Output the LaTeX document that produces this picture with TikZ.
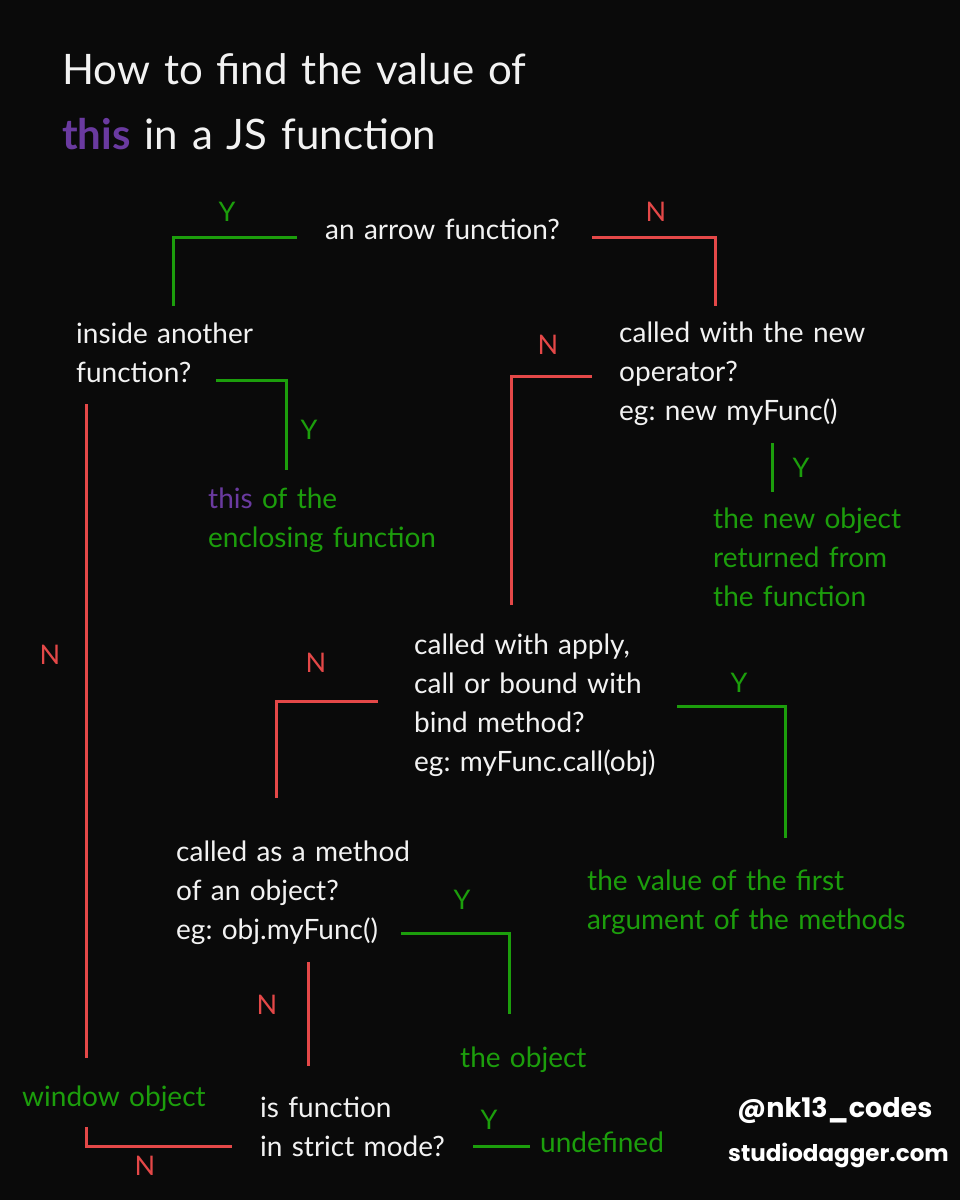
\documentclass[tikz,border=0pt]{standalone}
\usepackage{fontspec}
\setmainfont{Lato}
\newfontfamily\popfont{Poppins}
\frenchspacing
\definecolor{bg}{RGB}{10,10,10}
\definecolor{jsgreen}{RGB}{28,158,12}
\definecolor{jsred}{RGB}{228,72,72}
\definecolor{jspurple}{RGB}{106,58,160}
\definecolor{fg}{RGB}{242,242,242}
\tikzset{
  txt/.style={anchor=base west, inner sep=0pt, text=fg, font=\fontsize{28}{39}\selectfont, align=left, text width=380pt},
  ans/.style={txt, text=jsgreen},
  lbl/.style={anchor=base, inner sep=0pt, font=\fontsize{27}{27}\selectfont},
  ylbl/.style={lbl, text=jsgreen},
  nlbl/.style={lbl, text=jsred},
  yes/.style={draw=jsgreen, line width=3pt},
  no/.style={draw=jsred, line width=3pt},
  footer/.style={anchor=base west, inner sep=0pt, text=white, font=\popfont\bfseries\fontsize{27}{27}\selectfont}
}
\begin{document}
\begin{tikzpicture}[x=1pt,y=-1pt]
\fill[bg] (0,0) rectangle (960,1200);
\useasboundingbox (0,0) rectangle (960,1200);
% title
\node[anchor=base west, inner sep=0pt, text=fg, font=\fontsize{42}{65}\selectfont, align=left, text width=700pt] (title) at (62,84)
  {How to find the value of\\{\color{jspurple}\bfseries this} in a JS function};
% questions
\node[txt] (arrow) at (325,239) {an arrow function?};
\node[txt] (inside) at (76,343) {inside another\\function?};
\node[txt] (newop) at (619,342) {called with the new\\operator?\\eg: new myFunc()};
\node[txt] (apply) at (414,654) {called with apply,\\call or bound with\\bind method?\\eg: myFunc.call(obj)};
\node[txt] (method) at (176,861) {called as a method\\of an object?\\eg: obj.myFunc()};
\node[txt] (strict) at (260,1117) {is function\\in strict mode?};
% answers
\node[ans] (enclosing) at (208,508) {{\color{jspurple}this} of the\\enclosing function};
\node[ans] (newobj) at (713,528) {the new object\\returned from\\the function};
\node[ans] (firstarg) at (587,890) {the value of the first\\argument of the methods};
\node[ans] (theobj) at (460,1067) {the object};
\node[ans] (window) at (22,1106) {window object};
\node[ans] (undef) at (540,1152) {undefined};
% footer
\node[footer] (handle) at (737,1117) {@nk13\_codes};
\node[footer, font=\popfont\bfseries\fontsize{23}{23}\selectfont] (site) at (728,1161) {studiodagger.com};
% connector coordinates
\coordinate (a1) at (297,237); \coordinate (a2) at (173,237); \coordinate (a3) at (173,306);
\coordinate (b1) at (592,237); \coordinate (b2) at (715,237); \coordinate (b3) at (715,306);
\coordinate (c1) at (216,380); \coordinate (c2) at (286,380); \coordinate (c3) at (286,470);
\coordinate (d1) at (86,404); \coordinate (d2) at (86,1058);
\coordinate (e1) at (592,376); \coordinate (e2) at (511,376); \coordinate (e3) at (511,605);
\coordinate (f1) at (772,443); \coordinate (f2) at (772,492);
\coordinate (g1) at (378,701); \coordinate (g2) at (276,701); \coordinate (g3) at (276,798);
\coordinate (h1) at (677,706); \coordinate (h2) at (785,706); \coordinate (h3) at (785,838);
\coordinate (i1) at (401,933); \coordinate (i2) at (509,933); \coordinate (i3) at (509,1014);
\coordinate (j1) at (308,962); \coordinate (j2) at (308,1066);
\coordinate (k1) at (86,1127); \coordinate (k2) at (86,1146); \coordinate (k3) at (232,1146);
\coordinate (l1) at (473,1146); \coordinate (l2) at (530,1146);
% connectors
\draw[yes] (a1) -- (a2) -- (a3);
\draw[no] (b1) -- (b2) -- (b3);
\draw[yes] (c1) -- (c2) -- (c3);
\draw[no] (d1) -- (d2);
\draw[no] (e1) -- (e2) -- (e3);
\draw[yes] (f1) -- (f2);
\draw[no] (g1) -- (g2) -- (g3);
\draw[yes] (h1) -- (h2) -- (h3);
\draw[yes] (i1) -- (i2) -- (i3);
\draw[no] (j1) -- (j2);
\draw[no] (k1) -- (k2) -- (k3);
\draw[yes] (l1) -- (l2);
% labels
\node[ylbl] (y1) at (227,221) {Y};
\node[nlbl] (n1) at (656,221) {N};
\node[ylbl] (y2) at (309,439) {Y};
\node[nlbl] (n2) at (50,664) {N};
\node[nlbl] (n3) at (548,354) {N};
\node[ylbl] (y3) at (801,477) {Y};
\node[nlbl] (n4) at (316,672) {N};
\node[ylbl] (y4) at (739,692) {Y};
\node[ylbl] (y5) at (462,909) {Y};
\node[nlbl] (n5) at (267,1014) {N};
\node[nlbl] (n6) at (145,1175) {N};
\node[ylbl] (y6) at (489,1129) {Y};
\end{tikzpicture}
\end{document}
